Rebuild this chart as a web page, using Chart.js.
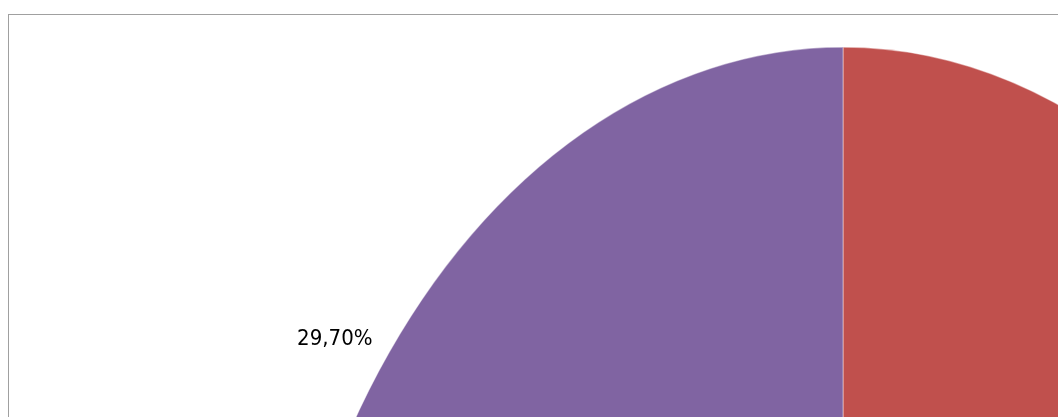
<!DOCTYPE html>
<html>
<head>
<meta charset="utf-8">
<script src="https://cdn.jsdelivr.net/npm/chart.js@4"></script>
<style>
  html, body { margin: 0; padding: 0; background: #fff; overflow: hidden; width: 1058px; height: 417px; }
  #frame { position: absolute; left: 8px; top: 14px; width: 2000px; height: 2000px; border: 1px solid #a0a0a0; box-sizing: border-box; }
  #pie { position: absolute; left: 265px; top: 0px; }
</style>
</head>
<body>
<div id="frame"></div>
<canvas id="pie" width="1156" height="1694"></canvas>
<script>
// slice values in percent, clockwise from 12 o'clock
var labels = ['A', 'B', 'C'];
var values = [38.2, 32.1, 29.7];
var colors = ['#C0504D', '#9BBB59', '#8064A2'];
var shown = [false, false, true];

// the original pie is stretched vertically
var stretch = 800 / 577.5;

var ellipsePlugin = {
    id: 'ellipse',
    beforeDatasetsDraw: function (chart) {
        var arc = chart.getDatasetMeta(0).data[0];
        var ctx = chart.ctx;
        ctx.save();
        ctx.translate(arc.x, arc.y);
        ctx.scale(1, stretch);
        ctx.translate(-arc.x, -arc.y);
    },
    afterDatasetsDraw: function (chart) {
        chart.ctx.restore();
    }
};

var labelPlugin = {
    id: 'pctLabels',
    afterDraw: function (chart) {
        var ctx = chart.ctx;
        var total = values.reduce(function (a, b) { return a + b; }, 0);
        ctx.save();
        ctx.font = '22px "DejaVu Sans Condensed", "DejaVu Sans", sans-serif';
        ctx.fillStyle = '#000';
        ctx.textAlign = 'center';
        ctx.textBaseline = 'middle';
        chart.getDatasetMeta(0).data.forEach(function (arc, i) {
            if (!shown[i]) return;
            var mid = (arc.startAngle + arc.endAngle) / 2;
            var r = arc.outerRadius;
            var x = arc.x + (r + 55) * Math.cos(mid);
            var y = arc.y + r * Math.sin(mid) * stretch + 53 * Math.sin(mid);
            var txt = (values[i] / total * 100).toFixed(2).replace('.', ',') + '%';
            ctx.fillText(txt, x, y);
        });
        ctx.restore();
    }
};

var ctx = document.getElementById('pie').getContext('2d');
var pieChart = new Chart(ctx, {
    type: 'pie',
    data: {
        labels: labels,
        datasets: [{
            data: values,
            backgroundColor: colors,
            borderColor: 'rgba(255,255,255,0.45)',
            borderWidth: 1,
            clip: false
        }]
    },
    options: {
        responsive: false,
        animation: false,
        events: [],
        devicePixelRatio: 1,
        layout: { padding: 0 },
        plugins: {
            legend: { display: false },
            tooltip: { enabled: false }
        }
    },
    plugins: [ellipsePlugin, labelPlugin]
});
</script>
</body>
</html>
